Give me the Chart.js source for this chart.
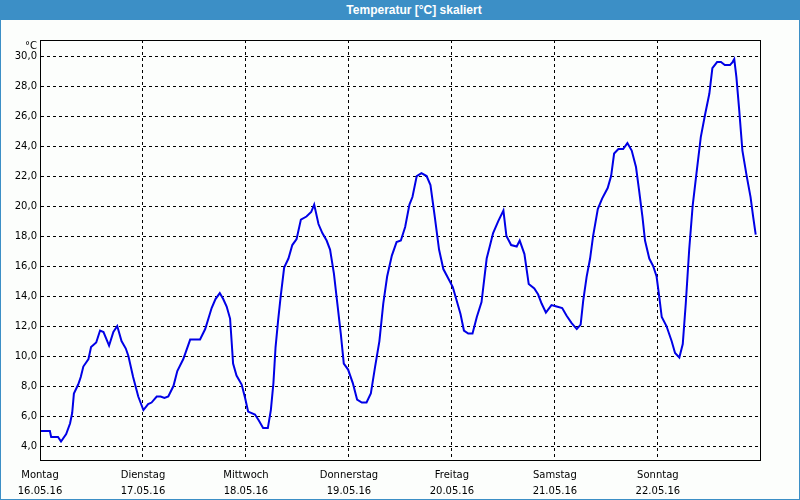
<!DOCTYPE html>
<html>
<head>
<meta charset="utf-8">
<script src="https://cdn.jsdelivr.net/npm/chart.js@4.4.1/dist/chart.umd.min.js"></script>
<style>
    html, body { margin: 0; padding: 0; background: #fff; }
    #frame {
        position: relative;
        width: 798px;
        height: 479px;
        border: 1px solid #3c8fc6;
        border-top: none;
        background: #fcfefc;
    }
    #title {
        width: 772px;
        height: 20px;
        padding-left: 28px;
        background: #3c8fc6;
        color: #fff;
        font: bold 12px "Liberation Sans", Arial, sans-serif;
        line-height: 20px;
        text-align: center;
    }
    #wrap { position: absolute; left: 0; top: 0; width: 798px; height: 478px; }
</style>
</head>
<body>
<div id="title">Temperatur [°C] skaliert</div>
<div id="frame">
    <div id="wrap"><canvas id="tempChart"></canvas></div>
</div>
<script>
// Hours since Monday 16.05.16 00:00
const hours = [
    0.0, 2.3, 2.6, 4.2, 4.9, 6.1, 7.0, 7.5, 7.9, 8.9, 9.5, 10.1, 11.3, 11.9, 13.1, 14.0, 14.8, 16.1, 17.1, 18.0,
    19.0, 20.0, 20.6, 21.7, 22.9, 24.1, 25.2, 26.0, 27.2, 28.1, 29.0, 29.9, 31.1, 32.0, 33.4, 35.0, 37.3, 38.5, 40.0, 40.9,
    41.9, 42.7, 43.5, 44.3, 44.7, 45.0, 45.8, 47.0, 47.8, 48.5, 50.1, 51.0, 52.0, 53.1, 53.8, 54.4, 54.9, 55.5, 56.1, 56.9,
    57.9, 58.8, 59.8, 60.8, 62.1, 63.2, 63.9, 64.9, 65.8, 66.8, 67.6, 68.5, 69.3, 70.1, 70.8, 71.8, 72.9, 73.9, 75.0, 76.1,
    77.1, 78.1, 79.1, 80.0, 80.9, 82.0, 83.1, 84.1, 85.1, 86.1, 86.8, 87.8, 88.9, 90.1, 91.0, 92.0, 93.0, 94.0, 95.1, 96.2,
    97.1, 98.0, 98.8, 99.8, 100.8, 101.8, 102.9, 104.1, 104.9, 105.6, 106.8, 108.0, 108.7, 109.8, 111.1, 111.8, 112.9, 113.9, 115.2, 116.1,
    116.9, 117.9, 119.2, 120.4, 121.7, 122.7, 123.9, 125.1, 126.0, 126.6, 127.4, 128.2, 128.9, 130.0, 131.0, 132.3, 133.1, 133.8, 134.8, 135.9,
    136.9, 137.9, 138.9, 139.6, 140.4, 141.0, 142.0, 142.9, 143.7, 144.3, 144.9, 146.0, 147.2, 148.0, 149.0, 149.8, 150.5, 151.3, 152.1, 153.0,
    154.0, 155.0, 156.0, 156.7, 157.8, 158.7, 159.6, 160.8, 161.4, 161.8, 162.3, 162.9, 163.7, 164.7, 165.6, 166.2, 166.8
];

const temps = [
    5.0, 5.0, 4.6, 4.6, 4.3, 4.8, 5.5, 6.2, 7.5, 8.1, 8.6, 9.3, 9.8, 10.6, 10.9, 11.7, 11.6, 10.7, 11.6, 12.0,
    11.0, 10.5, 10.0, 8.6, 7.3, 6.4, 6.8, 6.9, 7.3, 7.3, 7.2, 7.3, 8.0, 9.0, 9.8, 11.1, 11.1, 11.8, 13.2, 13.8,
    14.2, 13.8, 13.3, 12.5, 10.8, 9.5, 8.7, 8.1, 7.2, 6.3, 6.1, 5.7, 5.2, 5.2, 6.4, 8.2, 10.6, 12.4, 14.0, 15.9,
    16.5, 17.4, 17.8, 19.1, 19.3, 19.6, 20.1, 18.8, 18.2, 17.7, 17.1, 15.5, 13.5, 11.5, 9.5, 9.1, 8.2, 7.1, 6.9, 6.9,
    7.5, 9.3, 11.0, 13.5, 15.3, 16.7, 17.6, 17.7, 18.6, 20.1, 20.6, 22.0, 22.2, 22.0, 21.4, 19.3, 17.1, 15.8, 15.2, 14.6,
    13.7, 12.8, 11.7, 11.5, 11.5, 12.6, 13.6, 16.5, 17.4, 18.2, 19.0, 19.7, 18.0, 17.4, 17.3, 17.7, 16.8, 14.8, 14.5, 14.1,
    13.5, 12.9, 13.4, 13.3, 13.2, 12.7, 12.2, 11.8, 12.1, 13.7, 15.3, 16.5, 18.0, 19.8, 20.5, 21.2, 22.0, 23.5, 23.8, 23.8,
    24.2, 23.7, 22.6, 21.1, 19.3, 17.7, 16.5, 16.0, 15.3, 14.0, 12.6, 12.0, 11.0, 10.2, 9.9, 10.8, 13.5, 17.1, 20.0, 22.2,
    24.6, 26.1, 27.5, 29.2, 29.6, 29.6, 29.4, 29.4, 29.6, 29.8, 28.6, 26.6, 23.7, 22.0, 20.6, 19.3, 18.1
];

const dayNames = ["Montag", "Dienstag", "Mittwoch", "Donnerstag", "Freitag", "Samstag", "Sonntag"];
const dayDates = ["16.05.16", "17.05.16", "18.05.16", "19.05.16", "20.05.16", "21.05.16", "22.05.16"];
const dayTicks = [0, 24, 48, 72, 96, 120, 144];
const yTicks = [4, 6, 8, 10, 12, 14, 16, 18, 20, 22, 24, 26, 28, 30];

const FONT = { family: "'DejaVu Sans', sans-serif", size: 10 };

// solid frame round the plot + unit label
const framePlugin = {
    id: "frame",
    afterDraw(chart) {
        const { ctx, chartArea: a } = chart;
        ctx.save();
        ctx.strokeStyle = "#000";
        ctx.lineWidth = 1;
        ctx.strokeRect(Math.round(a.left) + 0.5, Math.round(a.top) + 0.5,
            Math.round(a.right - a.left), Math.round(a.bottom - a.top));
        ctx.fillStyle = "#000";
        ctx.font = `${FONT.size}px ${FONT.family}`;
        ctx.textAlign = "right";
        ctx.textBaseline = "middle";
        ctx.fillText("°C", a.left - 3, a.top + 6);
        ctx.restore();
    }
};

new Chart(document.getElementById("tempChart"), {
    type: "line",
    data: {
        datasets: [{
            data: hours.map((h, i) => ({ x: h, y: temps[i] })),
            borderColor: "#0000e6",
            borderWidth: 2,
            pointRadius: 0,
            tension: 0,
            fill: false
        }]
    },
    options: {
        responsive: true,
        maintainAspectRatio: false,
        animation: false,
        layout: { padding: { left: 0, top: 20, right: 39, bottom: 0 } },
        plugins: {
            legend: { display: false },
            tooltip: { enabled: false }
        },
        scales: {
            x: {
                type: "linear",
                min: 0,
                max: 167.8,
                afterBuildTicks: s => { s.ticks = dayTicks.map(v => ({ value: v })); },
                afterFit: s => { s.height = 38; },
                grid: { color: "#000", drawTicks: false },
                border: { color: "#000", dash: [3, 3] },
                ticks: {
                    color: "#000",
                    font: { ...FONT, lineHeight: 1.6 },
                    padding: 7,
                    maxRotation: 0,
                    autoSkip: false,
                    callback: v => {
                        const i = dayTicks.indexOf(v);
                        return i < 0 ? "" : [dayNames[i], dayDates[i]];
                    }
                }
            },
            y: {
                min: 3.07,
                max: 31.07,
                afterBuildTicks: s => { s.ticks = yTicks.map(v => ({ value: v })); },
                afterFit: s => { s.width = 39; },
                grid: { color: "#000", drawTicks: false },
                border: { color: "#000", dash: [3, 3] },
                ticks: {
                    color: "#000",
                    font: FONT,
                    padding: 3,
                    callback: v => v.toFixed(1).replace(".", ",")
                }
            }
        }
    },
    plugins: [framePlugin]
});
</script>
</body>
</html>
